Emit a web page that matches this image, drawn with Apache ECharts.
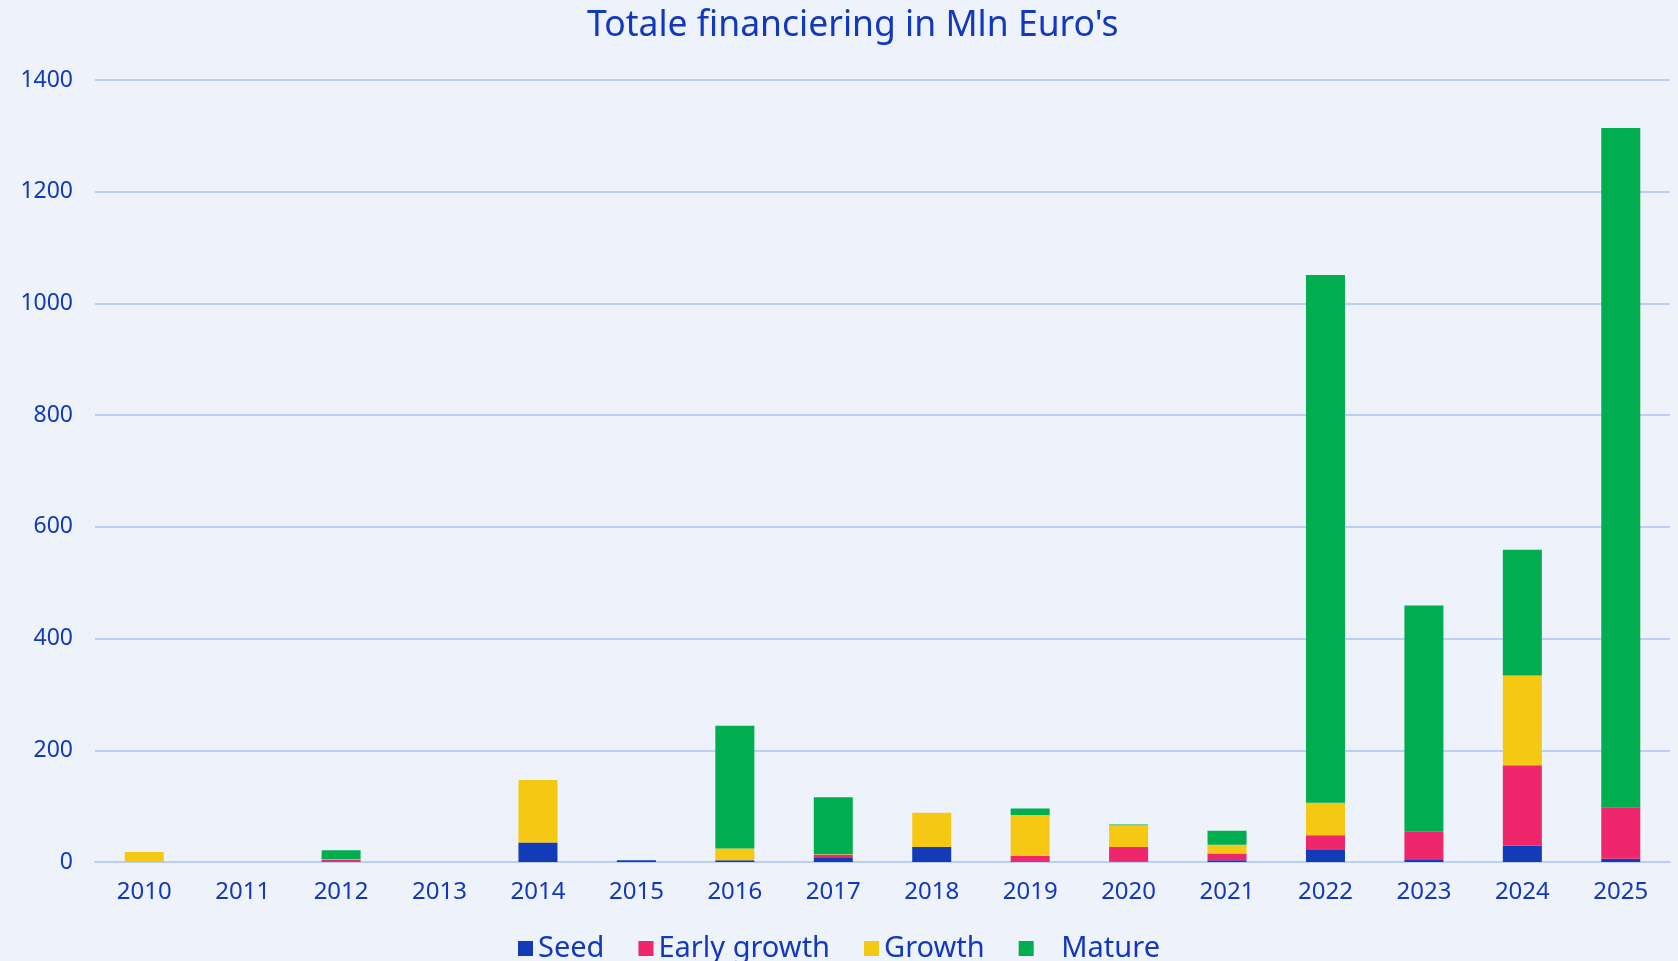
<!DOCTYPE html>
<html>
<head>
<meta charset="utf-8">
<title>Totale financiering</title>
<script src="https://cdn.jsdelivr.net/npm/echarts@6/dist/echarts.min.js"></script>
<style>
    html, body { margin: 0; padding: 0; background: #eef2fa; }
    #main { width: 1678px; height: 961px; }
</style>
</head>
<body>
<div id="main"></div>
<script>
var years = ['2010', '2011', '2012', '2013', '2014', '2015', '2016', '2017',
    '2018', '2019', '2020', '2021', '2022', '2023', '2024', '2025'];

// waarden in Mln Euro
var seedData = [0, 0, 0, 0, 35, 3, 3, 7, 27, 0, 1, 3, 23, 5, 29, 6];
var earlyData = [0, 0, 4, 0, 0, 0, 0, 6, 0, 11, 26, 12, 25, 49, 144, 92];
var growthData = [18, 0, 1, 0, 112, 0, 21, 1, 61, 73, 39, 16, 58, 0, 161, 0];
var matureData = [0, 0, 16, 0, 0, 0, 220, 102, 0, 12, 1, 25, 945, 405, 225, 1216];

var textColor = '#1239bd';
var fontName = "'Noto Sans', sans-serif";

function barSeries(name, color, data) {
    return {
        name: name,
        type: 'bar',
        stack: 'totaal',
        barWidth: 39,
        itemStyle: {
            color: color
        },
        data: data
    };
}

var chart = echarts.init(document.getElementById('main'));
var option = {
    backgroundColor: '#eef2fa',
    animation: false,
    title: {
        text: "Totale financiering in Mln Euro's",
        left: 582,
        top: 3,
        textStyle: {
            color: textColor,
            fontFamily: fontName,
            fontWeight: 'normal',
            fontSize: 35.5
        }
    },
    legend: {
        left: 'center',
        top: 929,
        itemWidth: 15,
        itemHeight: 15,
        itemGap: 34,
        icon: 'rect',
        formatter: function(n) {
            return n === 'Mature' ? '   ' + n : n;
        },
        textStyle: {
            color: textColor,
            fontFamily: fontName,
            fontSize: 29
        }
    },
    grid: {
        left: 95,
        right: 8,
        top: 80,
        bottom: 99
    },
    xAxis: {
        type: 'category',
        data: years,
        axisLine: { lineStyle: { color: '#bccdf6', width: 2 } },
        axisTick: { show: false },
        axisLabel: {
            color: textColor,
            fontFamily: fontName,
            fontSize: 24,
            margin: 18
        }
    },
    yAxis: {
        type: 'value',
        min: 0,
        max: 1400,
        interval: 200,
        axisLine: { show: false },
        axisTick: { show: false },
        splitLine: { lineStyle: { color: '#bccdf6', width: 2 } },
        axisLabel: {
            color: textColor,
            fontFamily: fontName,
            fontSize: 23,
            margin: 22,
            formatter: function(v) { return String(v); }
        }
    },
    series: [
        barSeries('Seed', '#133bb8', seedData),
        barSeries('Early growth', '#ee266b', earlyData),
        barSeries('Growth', '#f5c814', growthData),
        barSeries('Mature', '#00ae4f', matureData)
    ]
};
chart.setOption(option);
window.onresize = chart.resize;
</script>
</body>
</html>
